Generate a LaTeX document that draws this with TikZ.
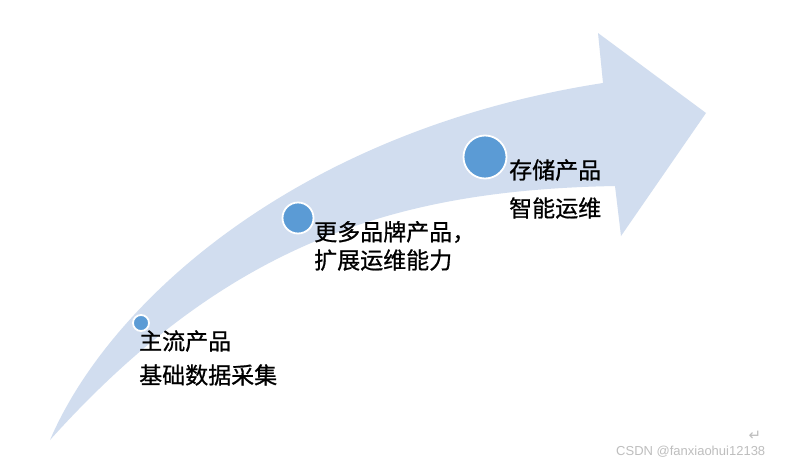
\documentclass[tikz,border=0pt]{standalone}
\usepackage{fontspec}
\newfontfamily\cjk[FakeBold=0.8]{Noto Sans CJK SC}
\newfontfamily\wmfont{Liberation Sans}
\newfontfamily\symfont{DejaVu Sans}
\definecolor{arrowblue}{RGB}{209,221,239}
\definecolor{dotblue}{RGB}{91,155,213}
\definecolor{wmgray}{RGB}{190,190,190}
\tikzset{
  dot/.style={circle, fill=dotblue, draw=white, line width=1.8pt, inner sep=0pt},
  label text/.style={anchor=west, inner sep=0pt, font=\cjk\fontsize{23}{26}\selectfont, text=black},
  watermark/.style={anchor=west, inner sep=0pt, font=\wmfont\fontsize{13}{15}\selectfont, text=wmgray}
}
\begin{document}
\begin{tikzpicture}[x=1pt,y=-1pt]
\useasboundingbox (0,0) rectangle (787,466);
\fill[white] (0,0) rectangle (787,466);
% big curved arrow
\fill[arrowblue]
  (50,440) .. controls (110,300) and (300,130) .. (603,83)
  -- (598,33) -- (706,113) -- (621,236) -- (615,186)
  .. controls (400,190) and (230,240) .. (50,440)
  -- cycle;
% dots
\node[dot, minimum size=16pt] (d1) at (141,323) {};
\node[dot, minimum size=31pt] (d2) at (298,218) {};
\node[dot, minimum size=43pt] (d3) at (485,157) {};
% texts
\node[label text] (t1a) at (139,341) {主流产品};
\node[label text] (t1b) at (139,375) {基础数据采集};
\node[label text] (t2a) at (314,232) {更多品牌产品，};
\node[label text] (t2b) at (314,260) {扩展运维能力};
\node[label text] (t3a) at (509,170) {存储产品};
\node[label text] (t3b) at (509,208) {智能运维};
% watermark
\node[anchor=center, inner sep=0pt, font=\symfont\fontsize{15}{17}\selectfont, text=wmgray] (ret) at (755,436) {↵};
\node[watermark] (wm) at (616,452) {CSDN @fanxiaohui12138};
\end{tikzpicture}
\end{document}
